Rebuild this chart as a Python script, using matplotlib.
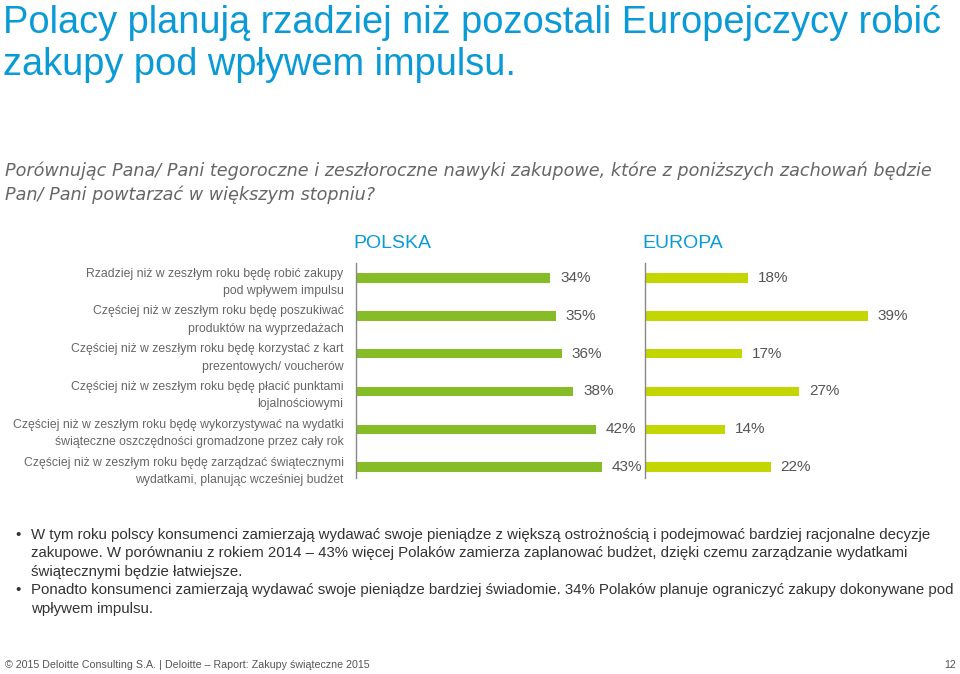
import matplotlib
matplotlib.use("Agg")
import matplotlib.pyplot as plt

plt.rcParams['font.family'] = ['Liberation Sans', 'DejaVu Sans']

categories = [
    "Rzadziej niż w zeszłym roku będę robić zakupy\npod wpływem impulsu",
    "Częściej niż w zeszłym roku będę poszukiwać\nproduktów na wyprzedażach",
    "Częściej niż w zeszłym roku będę korzystać z kart\nprezentowych/ voucherów",
    "Częściej niż w zeszłym roku będę płacić punktami\nlojalnościowymi",
    "Częściej niż w zeszłym roku będę wykorzystywać na wydatki\nświąteczne oszczędności gromadzone przez cały rok",
    "Częściej niż w zeszłym roku będę zarządzać świątecznymi\nwydatkami, planując wcześniej budżet",
]
polska = [34, 35, 36, 38, 42, 43]
europa = [18, 39, 17, 27, 14, 22]
panel_titles = ["POLSKA", "EUROPA"]

title_lines = "Polacy planują rzadziej niż pozostali Europejczycy robić\nzakupy pod wpływem impulsu."
subtitle = ("Porównując Pana/ Pani tegoroczne i zeszłoroczne nawyki zakupowe, które z poniższych zachowań będzie\n"
            "Pan/ Pani powtarzać w większym stopniu?")
bullets = [
    ["W tym roku polscy konsumenci zamierzają wydawać swoje pieniądze z większą ostrożnością i podejmować bardziej racjonalne decyzje",
     "zakupowe. W porównaniu z rokiem 2014 – 43% więcej Polaków zamierza zaplanować budżet, dzięki czemu zarządzanie wydatkami",
     "świątecznymi będzie łatwiejsze."],
    ["Ponadto konsumenci zamierzają wydawać swoje pieniądze bardziej świadomie. 34% Polaków planuje ograniczyć zakupy dokonywane pod",
     "wpływem impulsu."],
]
footer = "© 2015 Deloitte Consulting S.A. | Deloitte – Raport: Zakupy świąteczne 2015"
page = "12"

W, H = 960, 674
BLUE = "#0a9ad6"
GREEN_PL = "#86bc25"
GREEN_EU = "#c4d600"
GREY = "#555555"

fig = plt.figure(figsize=(W / 100, H / 100), dpi=100)

def fx(x): return x / W
def fy(y): return 1 - y / H

fig.text(fx(3), fy(44), title_lines, color=BLUE, fontsize=27.4, va='center', ha='left', linespacing=1.2)
fig.text(fx(5), fy(183), subtitle, color="#666666", fontsize=12.7, style='italic', va='center', ha='left',
         linespacing=1.35, family=['DejaVu Sans'])

px_per_pct = 5.72
axis_top, axis_bot = 263, 478
y_pos = list(range(len(categories)))

def make_ax(left, width, vals, color, title, cx):
    ax = fig.add_axes([fx(left), fy(axis_bot), width / W, (axis_bot - axis_top) / H])
    ax.barh(y_pos, vals, height=0.25, color=color)
    ax.set_xlim(0, width / px_per_pct)
    ax.set_ylim(5.29, -0.40)
    for s in ['top', 'right', 'bottom']:
        ax.spines[s].set_visible(False)
    ax.spines['left'].set_color('#888888')
    ax.spines['left'].set_linewidth(1.0)
    ax.set_xticks([])
    ax.set_yticks([])
    for yi, v in zip(y_pos, vals):
        ax.annotate(f"{v}%", (v, yi), xytext=(7, 0), textcoords='offset points',
                    va='center', ha='left', fontsize=11, color=GREY)
    fig.text(fx(cx), fy(243), title, color=BLUE, fontsize=14, ha='center', va='center')
    return ax

ax1 = make_ax(356, 280, polska, GREEN_PL, panel_titles[0], 392)
ax2 = make_ax(645, 300, europa, GREEN_EU, panel_titles[1], 683)

ax1.set_yticks(y_pos)
ax1.set_yticklabels(categories, fontsize=8.85, color="#666666", ha='right', linespacing=1.6)
ax1.tick_params(axis='y', length=0, pad=9)

y = 535
for b in bullets:
    fig.text(fx(15), fy(y), "•", fontsize=10.8, color="#333333", va='center', ha='left')
    for line in b:
        fig.text(fx(31), fy(y), line, fontsize=10.8, color="#333333", va='center', ha='left')
        y += 18.4

fig.text(fx(5), fy(665), footer, fontsize=7.7, color="#555555", va='center', ha='left')
fig.text(fx(956), fy(665), page, fontsize=7.7, color="#555555", va='center', ha='right')

fig.savefig("out.png", dpi=100)
